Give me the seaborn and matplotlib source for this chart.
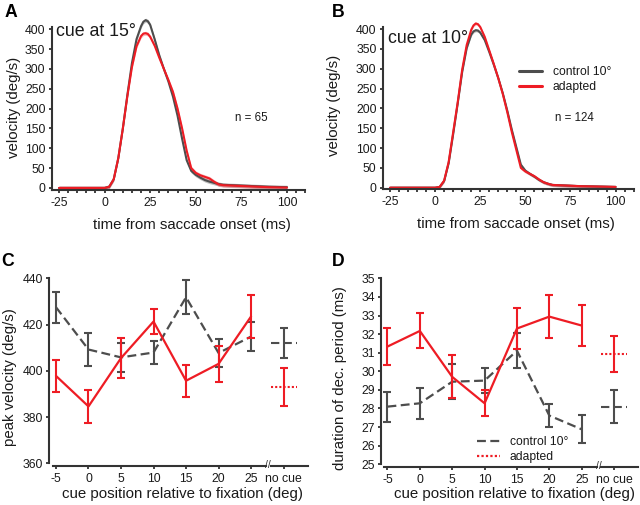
import numpy as np
import pandas as pd
import matplotlib
matplotlib.use("Agg")
import matplotlib.pyplot as plt
import seaborn as sns
from matplotlib.lines import Line2D
from matplotlib.ticker import MultipleLocator
from matplotlib.spines import Spine

# ---------------- data ----------------
# Panels A/B: mean velocity profiles (deg/s) vs time from saccade onset (ms)
time_ms = [-25, 0, 2.5, 5, 7.5, 10, 12.5, 15, 17.5, 20, 21.25, 22.5, 23.75, 25, 27.5, 30, 32.5,
           35, 37.5, 40, 42.5, 45, 47.5, 50, 52.5, 55, 57.5, 60, 62.5, 65,
           70, 80, 90, 100]
velA_control = [0, 0, 3, 22, 75, 150, 235, 315, 375, 408, 419, 423, 420, 411, 374, 334, 300,
                268, 230, 182, 124, 70, 43, 33, 26, 20, 16, 13, 10, 8,
                7, 5, 3, 2]
velA_adapted = [0, 0, 3, 22, 75, 150, 232, 305, 357, 383, 389, 390, 388, 381, 358, 328, 300,
                272, 242, 200, 150, 94, 50, 38, 32, 28, 24, 16, 9, 7,
                6, 4, 2, 1]
velB_control = [0, 0, 2, 17, 62, 135, 212, 292, 352, 386, 394, 397, 396, 391, 372, 342, 310,
                276, 238, 194, 146, 102, 58, 43, 35, 28, 20, 14, 10, 7,
                6, 4, 3, 2]
velB_adapted = [0, 0, 2, 18, 65, 140, 215, 298, 360, 398, 409, 414, 412, 405, 380, 346, 312,
                276, 236, 190, 140, 95, 50, 41, 35, 29, 21, 14, 10, 7,
                6, 4, 3, 2]
band_A = 5
band_B = 4

# Panels C/D
cue_positions = [-5, 0, 5, 10, 15, 20, 25]
nocue_position = 30
cd_tick_labels = ["-5", "0", "5", "10", "15", "20", "25", "no cue"]

peak_control = [427.5, 409.2, 405.8, 407.9, 431.8, 407.7, 414.8]
peak_control_err = [6.7, 7.3, 6.2, 4.9, 7.3, 5.9, 6.2]
peak_adapted = [397.8, 384.6, 405.5, 421.3, 395.7, 403.0, 423.5]
peak_adapted_err = [6.8, 7.2, 8.6, 5.6, 7.0, 7.9, 9.4]
peak_nocue_control, peak_nocue_control_err = 412.0, 6.4
peak_nocue_adapted, peak_nocue_adapted_err = 392.8, 8.2

dur_control = [28.10, 28.28, 29.44, 29.50, 31.11, 27.62, 26.88]
dur_control_err = [0.80, 0.83, 0.94, 0.68, 0.95, 0.60, 0.76]
dur_adapted = [31.33, 32.17, 29.70, 28.28, 32.30, 32.94, 32.46]
dur_adapted_err = [1.00, 0.94, 1.15, 0.69, 1.10, 1.14, 1.12]
dur_nocue_control, dur_nocue_control_err = 28.10, 0.88
dur_nocue_adapted, dur_nocue_adapted_err = 30.95, 0.97

GRAY = "#4d4d4d"
RED = "#ee1c24"
AX = "#333333"

sns.set_theme(style="ticks")
plt.rcParams["font.family"] = ["Liberation Sans", "DejaVu Sans"]
plt.rcParams.update({
    "axes.unicode_minus": False,
    "axes.edgecolor": AX, "axes.linewidth": 1.5,
    "xtick.color": AX, "ytick.color": AX,
    "xtick.labelcolor": "#1a1a1a", "ytick.labelcolor": "#1a1a1a",
    "xtick.major.size": 2.5, "xtick.minor.size": 2.5,
    "ytick.major.size": 2.5,
    "xtick.major.width": 1.3, "xtick.minor.width": 1.3, "ytick.major.width": 1.3,
    "xtick.major.pad": 2.5, "ytick.major.pad": 2.0,
    "xtick.labelsize": 8.8, "ytick.labelsize": 8.8,
    "axes.labelsize": 10.8, "axes.labelcolor": "#1a1a1a", "text.color": "#1a1a1a",
})

fig = plt.figure(figsize=(6.4, 5.05), dpi=100)
axA = fig.add_axes([0.0808, 0.6246, 0.3961, 0.3253])
axB = fig.add_axes([0.5981, 0.6251, 0.3920, 0.3253])
axC = fig.add_axes([0.0773, 0.0826, 0.4034, 0.3663])
axD = fig.add_axes([0.5953, 0.0806, 0.4016, 0.3683])


def velocity_panel(ax, ctrl, adap, band, cue_text, cue_pos, n_text, n_pos,
                   xlab_x, ylab_x, ylab_y):
    t = np.array(time_ms, dtype=float)
    c = np.array(ctrl, dtype=float)
    a = np.array(adap, dtype=float)
    ax.fill_between(t, c - band, c + band, color=GRAY, alpha=0.35, lw=0, clip_on=False)
    ax.fill_between(t, a - band, a + band, color=RED, alpha=0.3, lw=0, clip_on=False)
    df = pd.DataFrame({"t": np.concatenate([t, t]),
                       "v": np.concatenate([c, a]),
                       "cond": ["control 10°"] * len(t) + ["adapted"] * len(t)})
    sns.lineplot(data=df, x="t", y="v", hue="cond",
                 palette={"control 10°": GRAY, "adapted": RED},
                 estimator=None, sort=False, lw=1.5, ax=ax, legend=False,
                 clip_on=False)
    ax.set_xlim(-29, 110)
    ax.set_ylim(-4, 410)
    ax.set_xticks(range(-25, 101, 25))
    ax.xaxis.set_minor_locator(MultipleLocator(5))
    ax.set_yticks(range(0, 401, 50))
    sns.despine(ax=ax)
    ax.spines["left"].set_bounds(-4, 405)
    ax.set_xlabel("time from saccade onset (ms)")
    ax.set_ylabel("velocity (deg/s)")
    ax.xaxis.set_label_coords(xlab_x, -0.17)
    ax.yaxis.set_label_coords(ylab_x, ylab_y)
    ax.text(cue_pos[0], cue_pos[1], cue_text, transform=ax.transAxes,
            fontsize=12.8, va="baseline", ha="left")
    ax.text(n_pos[0], n_pos[1], n_text, transform=ax.transAxes,
            fontsize=8.3, va="baseline", ha="left")


velocity_panel(axA, velA_control, velA_adapted, band_A, "cue at 15°", (0.017, 0.935),
               "n = 65", (0.723, 0.419), 0.553, -0.121, 0.5)
velocity_panel(axB, velB_control, velB_adapted, band_B, "cue at 10°", (0.022, 0.889),
               "n = 124", (0.686, 0.4175), 0.529, -0.167, 0.508)

legB = [Line2D([], [], color=GRAY, lw=2.2), Line2D([], [], color=RED, lw=2.2)]
axB.legend(legB, ["control 10°", "adapted"], loc="upper left",
           bbox_to_anchor=(0.543, 0.75), frameon=False, fontsize=8.7,
           handlelength=1.9, handletextpad=0.9, labelspacing=0.25,
           borderpad=0, borderaxespad=0)

DASH = (0, (4, 2))
DOT = (0, (1, 1))


def summary_panel(ax, ctrl, ctrl_err, adap, adap_err, nc_c, nc_c_err, nc_a, nc_a_err,
                  ylim, yticks, ylabel, xlab_x, xlab_y, ylab_x, ylab_y):
    ebkw = dict(fmt="none", elinewidth=1.5, capsize=3, capthick=1.5)
    ax.errorbar(cue_positions, ctrl, yerr=ctrl_err, ecolor=GRAY, **ebkw)
    sns.lineplot(x=cue_positions, y=ctrl, color=GRAY, lw=1.6, ax=ax)
    ax.lines[-1].set_linestyle(DASH)
    ax.errorbar([nocue_position], [nc_c], yerr=[nc_c_err], ecolor=GRAY, **ebkw)
    ax.hlines(nc_c, nocue_position - 2, nocue_position + 2, colors=GRAY,
              linestyles=DASH, lw=1.5)

    ax.errorbar(cue_positions, adap, yerr=adap_err, ecolor=RED, **ebkw)
    sns.lineplot(x=cue_positions, y=adap, color=RED, lw=1.6, ax=ax)
    ax.errorbar([nocue_position], [nc_a], yerr=[nc_a_err], ecolor=RED, **ebkw)
    ax.hlines(nc_a, nocue_position - 2, nocue_position + 2, colors=RED,
              linestyles=DOT, lw=1.5)

    ax.set_xlim(-6, 33.7)
    ax.set_ylim(*ylim)
    ax.set_yticks(yticks)
    ax.set_xticks(cue_positions + [nocue_position])
    ax.set_xticklabels(cd_tick_labels)
    sns.despine(ax=ax)
    ax.spines["left"].set_bounds(*ylim)
    ax.spines["bottom"].set_position(("outward", 2))
    ax.spines["bottom"].set_bounds(-5.5, 27.3)
    sp2 = Spine.linear_spine(ax, "bottom")
    ax.spines["bottom2"] = sp2
    sp2.set_position(("outward", 2))
    sp2.set_bounds(28.0, 33.7)
    sp2.set_linewidth(1.5)
    sp2.set_edgecolor(AX)
    ax.annotate("//", xy=(27.65, 0), xycoords=("data", "axes fraction"),
                xytext=(0, -1.5), textcoords="offset points", ha="center",
                va="center", fontsize=7.5, color=AX)
    ax.set_xlabel("cue position relative to fixation (deg)")
    ax.set_ylabel(ylabel)
    ax.xaxis.set_label_coords(xlab_x, xlab_y)
    ax.yaxis.set_label_coords(ylab_x, ylab_y)


summary_panel(axC, peak_control, peak_control_err, peak_adapted, peak_adapted_err,
              peak_nocue_control, peak_nocue_control_err,
              peak_nocue_adapted, peak_nocue_adapted_err,
              (360, 440), range(360, 441, 20), "peak velocity (deg/s)",
              0.515, -0.13, -0.126, 0.464)
summary_panel(axD, dur_control, dur_control_err, dur_adapted, dur_adapted_err,
              dur_nocue_control, dur_nocue_control_err,
              dur_nocue_adapted, dur_nocue_adapted_err,
              (25, 35), range(25, 36, 1), "duration of dec. period (ms)",
              0.518, -0.124, -0.132, 0.462)

legD = [Line2D([], [], color=GRAY, lw=1.6, ls=DASH),
        Line2D([], [], color=RED, lw=1.6, ls=DOT)]
axD.legend(legD, ["control 10°", "adapted"], loc="upper left",
           bbox_to_anchor=(0.372, 0.15), frameon=False, fontsize=8.7,
           handlelength=1.9, handletextpad=0.85, labelspacing=0.2,
           borderpad=0, borderaxespad=0)

for letter, x, y in [("A", 5, 16.7), ("B", 332, 16.7), ("C", 1.5, 266), ("D", 332, 266)]:
    fig.text(x / 640, 1 - y / 505, letter, fontsize=12.7, fontweight="bold",
             ha="left", va="baseline", color="black")

fig.savefig("out.png", dpi=100)
